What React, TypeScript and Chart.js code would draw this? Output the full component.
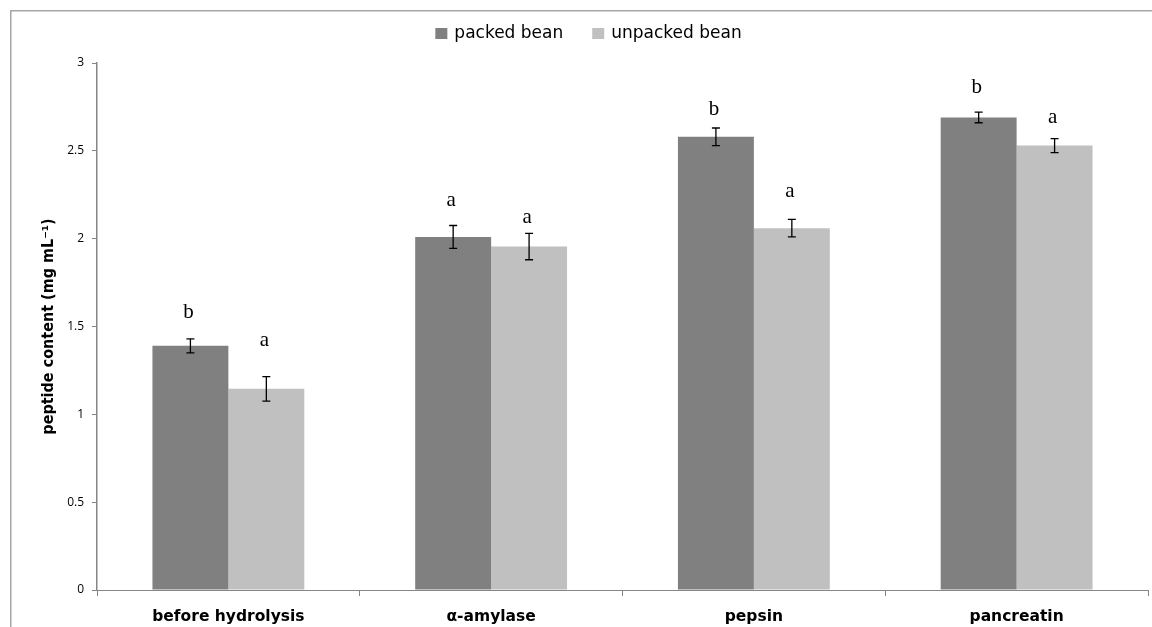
import React, { useEffect, useRef } from 'react';
import { Chart, registerables } from 'chart.js';

Chart.register(...registerables);

const categories = ['before hydrolysis', 'α-amylase', 'pepsin', 'pancreatin'];
const seriesNames = ['packed bean', 'unpacked bean'];
const packedValues = [1.39, 2.01, 2.58, 2.69];
const unpackedValues = [1.145, 1.955, 2.06, 2.53];
const packedErrors = [0.04, 0.065, 0.05, 0.03];
const unpackedErrors = [0.07, 0.075, 0.05, 0.04];
const packedLetters = ['b', 'a', 'b', 'b'];
const unpackedLetters = ['a', 'a', 'a', 'a'];
const packedLetterY = [1.577, 2.22, 2.738, 2.858];
const unpackedLetterY = [1.423, 2.123, 2.266, 2.687];
const yTickLabels = ['0', '0.5', '1', '1.5', '2', '2.5', '3'];
const yAxisTitle = 'peptide content (mg mL⁻¹)';

const DARK = '#808080';
const LIGHT = '#c0c0c0';
const AXIS = '#868686';

const errors = [packedErrors, unpackedErrors];
const letters = [packedLetters, unpackedLetters];
const letterY = [packedLetterY, unpackedLetterY];

const framePlugin = {
  id: 'frame',
  beforeDraw(chart: any) {
    const ctx = chart.ctx;
    ctx.save();
    ctx.fillStyle = '#ffffff';
    ctx.fillRect(0, 0, chart.width, chart.height);
    ctx.strokeStyle = '#a6a6a6';
    ctx.lineWidth = 1.5;
    ctx.strokeRect(10.75, 10.75, chart.width + 50, chart.height + 50);
    ctx.restore();
  },
};

const errorLetterPlugin = {
  id: 'errorLetters',
  afterDatasetsDraw(chart: any) {
    const ctx = chart.ctx;
    const yScale = chart.scales.y;
    ctx.save();
    chart.data.datasets.forEach((ds: any, i: number) => {
      const meta = chart.getDatasetMeta(i);
      meta.data.forEach((bar: any, j: number) => {
        const v = ds.data[j];
        const e = errors[i][j];
        const x = bar.x;
        const yTop = yScale.getPixelForValue(v + e);
        const yBot = yScale.getPixelForValue(v - e);
        ctx.strokeStyle = '#000';
        ctx.lineWidth = 1.3;
        ctx.beginPath();
        ctx.moveTo(x, yTop);
        ctx.lineTo(x, yBot);
        ctx.moveTo(x - 4, yTop);
        ctx.lineTo(x + 4, yTop);
        ctx.moveTo(x - 4, yBot);
        ctx.lineTo(x + 4, yBot);
        ctx.stroke();
        ctx.fillStyle = '#000';
        ctx.font = '21px "Liberation Serif", serif';
        ctx.textAlign = 'center';
        ctx.textBaseline = 'middle';
        ctx.fillText(letters[i][j], x - 2, yScale.getPixelForValue(letterY[i][j]));
      });
    });
    ctx.restore();
  },
};

const legendPlugin = {
  id: 'customLegend',
  afterDraw(chart: any) {
    const ctx = chart.ctx;
    ctx.save();
    ctx.font = '17px "DejaVu Sans", sans-serif';
    ctx.textBaseline = 'middle';
    ctx.textAlign = 'left';
    const box = 12;
    const gap = 7;
    const spacing = 29;
    const widths = seriesNames.map((n) => ctx.measureText(n).width);
    const total = widths.reduce((a, b) => a + b, 0) + seriesNames.length * (box + gap) + spacing * (seriesNames.length - 1);
    let x = 588.5 - total / 2;
    const y = 34;
    const colors = [DARK, LIGHT];
    seriesNames.forEach((n, i) => {
      ctx.fillStyle = colors[i];
      ctx.fillRect(x, y - box / 2, box, box - 1);
      x += box + gap;
      ctx.fillStyle = '#000';
      ctx.fillText(n, x, y);
      x += widths[i] + spacing;
    });
    ctx.restore();
  },
};

export default function App() {
  const ref = useRef<HTMLCanvasElement>(null);
  useEffect(() => {
    Chart.defaults.font.family = '"Open Sans", sans-serif';
    const chart = new Chart(ref.current!, {
      type: 'bar',
      data: {
        labels: categories,
        datasets: [
          { label: seriesNames[0], data: packedValues, backgroundColor: DARK, borderWidth: 0 },
          { label: seriesNames[1], data: unpackedValues, backgroundColor: LIGHT, borderWidth: 0 },
        ],
      },
      options: {
        responsive: false,
        animation: false,
        layout: { padding: { top: 63, right: 4, left: 0, bottom: 0 } },
        datasets: { bar: { categoryPercentage: 0.578, barPercentage: 1 } },
        plugins: { legend: { display: false }, tooltip: { enabled: false } },
        scales: {
          x: {
            afterFit: (s: any) => { s.height = 37; },
            grid: { drawOnChartArea: false, drawTicks: true, tickLength: 6, color: AXIS, offset: true },
            border: { color: AXIS, width: 1 },
            ticks: {
              color: '#000',
              padding: 12,
              font: { family: '"DejaVu Sans", sans-serif', size: 15.5, weight: 'bold' },
            },
          },
          y: {
            min: 0,
            max: 3,
            afterFit: (s: any) => { s.width = 97; },
            grid: { drawOnChartArea: false, drawTicks: true, tickLength: 5, color: AXIS },
            border: { color: AXIS, width: 1.5 },
            ticks: {
              stepSize: 0.5,
              color: '#000',
              padding: 8,
              font: { size: 12 },
              callback: (_v: any, i: number) => yTickLabels[i],
            },
            title: {
              display: true,
              text: yAxisTitle,
              color: '#000',
              padding: { top: 39, bottom: 0 },
              font: { family: '"DejaVu Sans Condensed", sans-serif', size: 16, weight: 'bold' },
            },
          },
        },
      },
      plugins: [framePlugin, errorLetterPlugin, legendPlugin],
    });
    return () => chart.destroy();
  }, []);
  return (
    <canvas
      ref={ref}
      width={1152}
      height={627}
      style={{ position: 'absolute', left: 0, top: 0, width: 1152, height: 627 }}
    />
  );
}
